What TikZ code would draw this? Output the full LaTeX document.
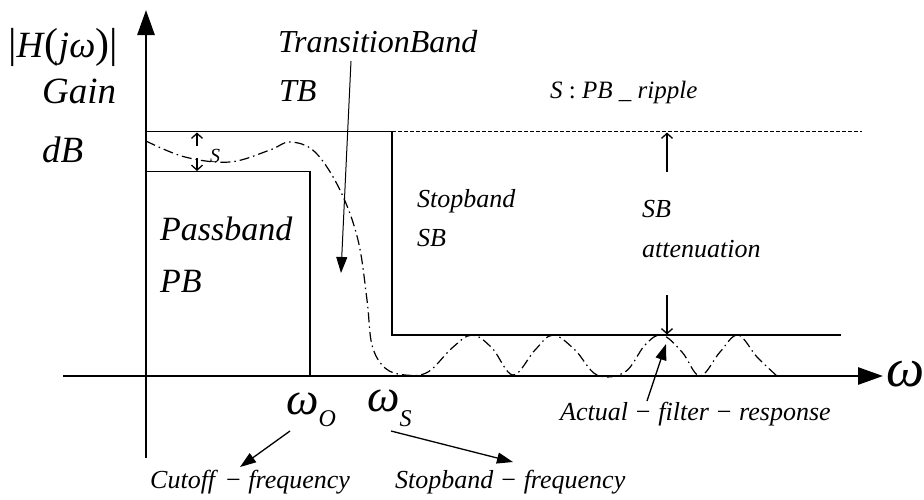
\documentclass[tikz,border=0pt]{standalone}
\usepackage{fontspec}
\setmainfont{Liberation Serif}
\usetikzlibrary{arrows.meta}
\newcommand{\mn}{\hspace{0.3em}\textup{−}\hspace{0.3em}}
\newcommand{\bigpart}[1]{\textup{\fontsize{42}{42}\selectfont #1}}
\newcommand{\lowsub}[2]{\raisebox{#1}{\fontsize{24}{24}\selectfont #2}}
\begin{document}
\begin{tikzpicture}[x=1pt,y=-1pt,
  lbl/.style={inner sep=0pt, anchor=base west},
  fs/.style={font=\fontsize{#1}{#1}\selectfont\itshape},
  ln/.style={line width=1.3pt},
  axisline/.style={line width=2.8pt},
  fillhead/.style={-{Triangle[length=16pt,width=11pt]}},
  bighead/.style={-{Triangle[length=25pt,width=17pt]}},
  barb/.style={-{Straight Barb[length=5pt,width=11pt]}},
  dd/.style={line width=1.2pt, dash pattern=on 10pt off 4pt on 1.5pt off 4pt},
  dsh/.style={line width=1.1pt, dash pattern=on 4pt off 2pt}]
\useasboundingbox (0,0) rectangle (924,499);

% axes
\coordinate (ybot) at (146,458);
\coordinate (ytop) at (146,10);
\coordinate (xl) at (63,376);
\coordinate (xr) at (883,376);
\draw[axisline,bighead] (ybot) -- (ytop);
\draw[axisline,bighead] (xl) -- (xr);

% boxes
\coordinate (tl) at (146,131.7);
\coordinate (tm) at (392,131.7);
\coordinate (tr) at (862,131.7);
\coordinate (pl) at (146,171.7);
\coordinate (pr) at (310,171.7);
\coordinate (pb) at (310,376);
\coordinate (sb) at (392,335);
\coordinate (sr) at (841,335);
\draw[ln] (tl) -- (tm);
\draw[dsh] (tm) -- (tr);
\draw[ln] (pl) -- (pr) -- (pb);
\draw[ln] (tm) -- (sb) -- (sr);

% ripple arrows
\coordinate (s1) at (197,146);
\coordinate (s1e) at (197,132.5);
\coordinate (s2) at (197,158);
\coordinate (s2e) at (197,171);
\draw[ln,barb] (s1) -- (s1e);
\draw[ln,barb] (s2) -- (s2e);

% SB attenuation arrows
\coordinate (a1) at (667,172);
\coordinate (a1e) at (667,132.5);
\coordinate (a2) at (667,295);
\coordinate (a2e) at (667,334.5);
\draw[ln,barb] (a1) -- (a1e);
\draw[ln,barb] (a2) -- (a2e);

% actual response
\draw[dd] plot[smooth, tension=0.6] coordinates {
 (146,141) (185,157) (230,162) (270,150) (290,142) (315,152) (340,190)
 (358,240) (367,300) (372,345) (385,368) (405,375) (428,372)
 (452,348) (472,335) (492,348) (513,375) (535,350) (553,335) (575,350)
 (597,375) (625,372) (645,345) (662,335) (682,352) (700,376)
 (720,352) (738,335) (757,357) (777,376)};

% labels
\node[lbl,fs=37] (hjw) at (8,57) {\bigpart{|}H\bigpart{(}jω\bigpart{)}\bigpart{|}};
\node[lbl,fs=37] (gain) at (42,103) {Gain};
\node[lbl,fs=37] (db) at (42,162) {dB};
\node[lbl,fs=32] (trans) at (278,52) {TransitionBand};
\node[lbl,fs=32] (tb) at (279,101) {TB};
\node[lbl,fs=25] (rip) at (550,98) {S \textup{:} PB \_ ripple};
\node[lbl,fs=20] (slab) at (210,162) {S};
\node[lbl,fs=34] (pass) at (160,240) {Passband};
\node[lbl,fs=34] (pbl) at (160,292) {PB};
\node[lbl,fs=26] (stop) at (417,207) {Stopband};
\node[lbl,fs=26] (sbl) at (417,246) {SB};
\node[lbl,fs=26] (sba) at (642,217) {SB};
\node[lbl,fs=26] (att) at (642,257) {attenuation};
\node[lbl,fs=46] (wo) at (286,414) {ω\lowsub{-12pt}{O}};
\node[lbl,fs=46] (ws) at (367,411) {ω\lowsub{-15pt}{S}};
\node[lbl,fs=54] (wax) at (886,386) {ω};
\node[lbl,fs=26] (cut) at (150,488) {Cutoff\mn frequency};
\node[lbl,fs=26] (stf) at (395,488) {Stopband\mn frequency};
\node[lbl,fs=26] (act) at (560,420) {Actual\mn filter\mn response};

% pointer arrows
\coordinate (tbs) at (351,61);
\coordinate (tbe) at (341,273);
\draw[line width=1pt,fillhead] (tbs) -- (tbe);
\coordinate (wos) at (290,431);
\coordinate (woe) at (240,467);
\draw[line width=1.3pt,fillhead] (wos) -- (woe);
\coordinate (wss) at (391,431);
\coordinate (wse) at (513,462);
\draw[line width=1.3pt,fillhead] (wss) -- (wse);
\coordinate (acs) at (647,401);
\coordinate (ace) at (666,344);
\draw[line width=1.3pt,fillhead] (acs) -- (ace);
\end{tikzpicture}
\end{document}
